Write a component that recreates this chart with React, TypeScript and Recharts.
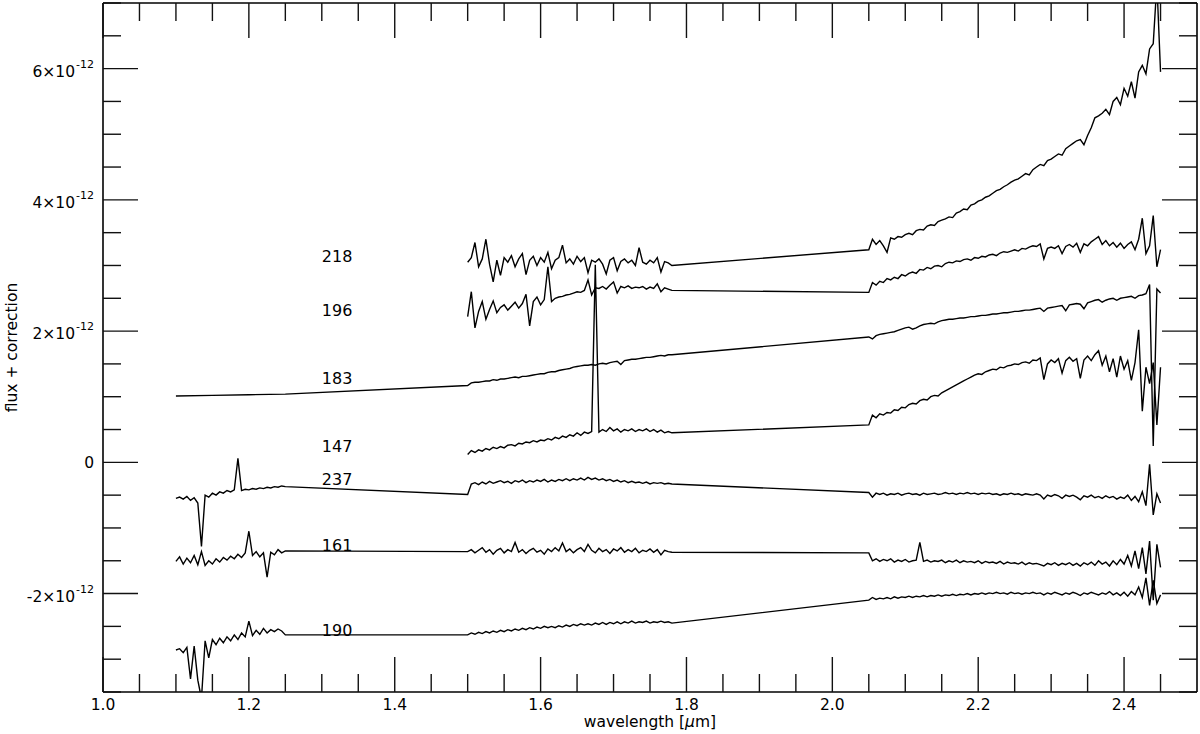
import React from 'react';
import { LineChart, Line, XAxis, YAxis, ReferenceDot } from 'recharts';

// Flux values are given in units of 1e-12 (the axis labels carry the ×10^-12 factor).
// Sampling grids of the three spectral bands (µm)
const J_START = 1.1;
const H_START = 1.5;
const K_START = 2.05;
const STEP = 0.005;

const X_TICKS = [1.0, 1.05, 1.1, 1.15, 1.2, 1.25, 1.3, 1.35, 1.4, 1.45, 1.5, 1.55, 1.6, 1.65, 1.7, 1.75, 1.8,
  1.85, 1.9, 1.95, 2.0, 2.05, 2.1, 2.15, 2.2, 2.25, 2.3, 2.35, 2.4, 2.45];
const Y_TICKS = [-3.5, -3, -2.5, -2, -1.5, -1, -0.5, 0, 0.5, 1, 1.5, 2, 2.5, 3, 3.5, 4, 4.5, 5, 5.5, 6, 6.5, 7];

const LABELS = ['218', '196', '183', '147', '237', '161', '190'];
const LABEL_X = 1.3;
const LABEL_Y = [3.055, 2.226, 1.2, 0.159, -0.34, -1.346, -2.65];

// ---- 218
const S218_H = [
  3.05, 3.12, 3.35, 2.98, 3.10, 3.40, 3.02, 2.75, 3.08, 2.85,
  3.12, 3.05, 3.15, 2.98, 3.10, 3.18, 2.86, 3.08, 3.14, 3.00,
  3.12, 3.05, 3.20, 2.95, 3.08, 3.12, 3.31, 3.04, 3.10, 3.02,
  3.14, 3.06, 3.12, 2.89, 3.08, 3.05, 3.10, 3.02, 2.87, 3.08,
  3.12, 2.92, 3.06, 3.10, 3.04, 3.08, 3.00, 3.27, 3.05, 3.02,
  3.08, 3.04, 3.12, 2.90, 3.06, 3.04, 3.00,
];
const S218_K = [
  3.24, 3.40, 3.32, 3.38, 3.30, 3.20, 3.42, 3.40, 3.44, 3.43,
  3.47, 3.49, 3.47, 3.53, 3.55, 3.54, 3.60, 3.62, 3.61, 3.67,
  3.69, 3.71, 3.74, 3.73, 3.80, 3.82, 3.86, 3.85, 3.92, 3.94,
  3.98, 4.00, 4.04, 4.06, 4.10, 4.14, 4.16, 4.20, 4.23, 4.27,
  4.30, 4.32, 4.36, 4.40, 4.38, 4.46, 4.50, 4.54, 4.52, 4.60,
  4.62, 4.66, 4.70, 4.68, 4.78, 4.82, 4.86, 4.90, 4.92, 4.84,
  4.98, 5.10, 5.25, 5.28, 5.32, 5.38, 5.30, 5.50, 5.56, 5.45,
  5.70, 5.58, 5.80, 5.55, 5.95, 6.05, 5.92, 6.30, 6.38, 7.30,
  5.95,
];

// ---- 196
const S196_H = [
  2.22, 2.60, 2.05, 2.30, 2.45, 2.18, 2.33, 2.46, 2.28, 2.36,
  2.40, 2.32, 2.38, 2.44, 2.35, 2.42, 2.56, 2.08, 2.45, 2.52,
  2.40, 2.48, 2.98, 2.45, 2.50, 2.52, 2.53, 2.55, 2.56, 2.58,
  2.60, 2.59, 2.62, 2.78, 2.55, 2.66, 2.65, 2.68, 2.64, 2.70,
  2.75, 2.58, 2.68, 2.66, 2.69, 2.65, 2.67, 2.66, 2.68, 2.64,
  2.67, 2.65, 2.72, 2.60, 2.66, 2.64, 2.62,
];
const S196_K = [
  2.59, 2.74, 2.70, 2.76, 2.74, 2.80, 2.78, 2.82, 2.80, 2.86,
  2.84, 2.88, 2.90, 2.88, 2.94, 2.93, 2.97, 2.95, 2.99, 3.00,
  2.98, 3.03, 3.05, 3.04, 3.07, 3.06, 3.09, 3.10, 3.08, 3.12,
  3.11, 3.14, 3.13, 3.16, 3.17, 3.15, 3.19, 3.21, 3.20, 3.22,
  3.24, 3.22, 3.26, 3.25, 3.28, 3.30, 3.29, 3.33, 3.10, 3.26,
  3.28, 3.26, 3.30, 3.18, 3.29, 3.32, 3.28, 3.34, 3.20, 3.33,
  3.30, 3.36, 3.40, 3.44, 3.32, 3.38, 3.30, 3.35, 3.28, 3.34,
  3.26, 3.32, 3.36, 3.24, 3.40, 3.72, 3.18, 3.30, 3.76, 2.98,
  3.24,
];

// ---- 183
const S183_J_X = [1.1, 1.15, 1.2, 1.25];
const S183_J = [1.01, 1.02, 1.03, 1.04];
const S183_H = [
  1.17, 1.21, 1.22, 1.22, 1.23, 1.24, 1.24, 1.26, 1.25, 1.27,
  1.27, 1.28, 1.29, 1.30, 1.29, 1.31, 1.31, 1.32, 1.33, 1.34,
  1.35, 1.35, 1.37, 1.38, 1.38, 1.40, 1.41, 1.42, 1.43, 1.45,
  1.46, 1.47, 1.48, 1.48, 1.49, 1.48, 1.50, 1.51, 1.50, 1.52,
  1.53, 1.54, 1.49, 1.55, 1.56, 1.57, 1.57, 1.58, 1.59, 1.60,
  1.60, 1.61, 1.62, 1.63, 1.62, 1.64, 1.64,
];
const S183_K = [
  1.91, 1.88, 1.93, 1.95, 1.96, 1.97, 1.98, 1.99, 2.01, 2.03,
  2.05, 2.06, 2.03, 2.05, 2.08, 2.10, 2.11, 2.12, 2.11, 2.14,
  2.16, 2.17, 2.18, 2.18, 2.19, 2.20, 2.20, 2.21, 2.22, 2.22,
  2.23, 2.24, 2.24, 2.25, 2.26, 2.26, 2.27, 2.28, 2.28, 2.29,
  2.30, 2.30, 2.31, 2.32, 2.32, 2.33, 2.34, 2.35, 2.30, 2.35,
  2.36, 2.37, 2.38, 2.39, 2.31, 2.40, 2.41, 2.42, 2.41, 2.34,
  2.43, 2.45, 2.47, 2.48, 2.44, 2.47, 2.49, 2.50, 2.47, 2.50,
  2.51, 2.52, 2.53, 2.50, 2.54, 2.55, 2.57, 2.71, 0.25, 2.64,
  2.58,
];

// ---- 147
const S147_H = [
  0.12, 0.18, 0.15, 0.19, 0.17, 0.21, 0.19, 0.23, 0.21, 0.24,
  0.22, 0.26, 0.27, 0.25, 0.29, 0.28, 0.31, 0.30, 0.33, 0.31,
  0.34, 0.33, 0.36, 0.34, 0.38, 0.36, 0.40, 0.38, 0.42, 0.40,
  0.45, 0.41, 0.46, 0.44, 0.47, 3.01, 0.46, 0.50, 0.47, 0.53,
  0.48, 0.51, 0.46, 0.50, 0.48, 0.51, 0.47, 0.50, 0.48, 0.51,
  0.47, 0.50, 0.46, 0.49, 0.45, 0.47, 0.45,
];
const S147_K = [
  0.57, 0.72, 0.68, 0.74, 0.72, 0.76, 0.75, 0.80, 0.79, 0.84,
  0.83, 0.88, 0.90, 0.89, 0.94, 0.96, 0.95, 1.00, 1.02, 1.01,
  1.06, 1.09, 1.12, 1.15, 1.18, 1.21, 1.24, 1.27, 1.30, 1.33,
  1.35, 1.34, 1.38, 1.40, 1.42, 1.41, 1.45, 1.44, 1.47, 1.48,
  1.50, 1.49, 1.52, 1.53, 1.51, 1.56, 1.55, 1.59, 1.26, 1.50,
  1.56, 1.52, 1.58, 1.36, 1.55, 1.60, 1.54, 1.58, 1.28, 1.56,
  1.62, 1.55, 1.64, 1.70, 1.48, 1.62, 1.38, 1.58, 1.30, 1.62,
  1.42, 1.55, 1.25, 1.52, 2.02, 0.78, 1.45, 1.20, 1.52, 0.57,
  1.45,
];

// ---- 237
const S237_J = [
  -0.55, -0.53, -0.56, -0.52, -0.58, -0.54, -0.62, -1.28, -0.50, -0.53,
  -0.47, -0.50, -0.45, -0.47, -0.43, -0.45, -0.42, 0.06, -0.43, -0.41,
  -0.42, -0.40, -0.41, -0.39, -0.40, -0.38, -0.39, -0.37, -0.38, -0.36,
  -0.37,
];
const S237_H = [
  -0.49, -0.33, -0.31, -0.34, -0.30, -0.33, -0.29, -0.32, -0.30, -0.28,
  -0.31, -0.29, -0.32, -0.28, -0.30, -0.27, -0.31, -0.28, -0.30, -0.27,
  -0.29, -0.26, -0.30, -0.27, -0.29, -0.26, -0.28, -0.25, -0.28, -0.25,
  -0.27, -0.24, -0.27, -0.23, -0.26, -0.24, -0.27, -0.25, -0.28, -0.26,
  -0.29, -0.27, -0.30, -0.28, -0.31, -0.29, -0.31, -0.30, -0.32, -0.30,
  -0.33, -0.31, -0.32, -0.31, -0.33, -0.32, -0.33,
];
const S237_K = [
  -0.46, -0.53, -0.47, -0.49, -0.47, -0.50, -0.48, -0.49, -0.47, -0.50,
  -0.48, -0.47, -0.49, -0.48, -0.50, -0.47, -0.49, -0.48, -0.47, -0.49,
  -0.48, -0.46, -0.48, -0.47, -0.49, -0.47, -0.48, -0.46, -0.48, -0.47,
  -0.49, -0.47, -0.48, -0.47, -0.49, -0.48, -0.50, -0.48, -0.49, -0.47,
  -0.49, -0.48, -0.50, -0.48, -0.49, -0.50, -0.48, -0.50, -0.56, -0.50,
  -0.52, -0.49, -0.51, -0.55, -0.50, -0.52, -0.50, -0.53, -0.57, -0.51,
  -0.53, -0.50, -0.54, -0.52, -0.55, -0.51, -0.54, -0.52, -0.56, -0.53,
  -0.55, -0.50, -0.58, -0.52, -0.60, -0.45, -0.66, -0.03, -0.80, -0.48,
  -0.62,
];

// ---- 161
const S161_J = [
  -1.51, -1.44, -1.55, -1.46, -1.53, -1.42, -1.56, -1.36, -1.57, -1.50,
  -1.55, -1.47, -1.52, -1.45, -1.49, -1.43, -1.47, -1.40, -1.45, -1.38,
  -1.05, -1.42, -1.36, -1.44, -1.38, -1.75, -1.37, -1.41, -1.33, -1.38,
  -1.35,
];
const S161_H = [
  -1.36, -1.33, -1.38, -1.34, -1.30, -1.37, -1.33, -1.40, -1.34, -1.31,
  -1.38, -1.33, -1.36, -1.22, -1.37, -1.33, -1.39, -1.34, -1.31, -1.37,
  -1.34, -1.40, -1.32, -1.36, -1.30, -1.35, -1.23, -1.36, -1.32, -1.38,
  -1.33, -1.30, -1.36, -1.25, -1.34, -1.38, -1.31, -1.36, -1.33, -1.39,
  -1.32, -1.35, -1.30, -1.37, -1.33, -1.36, -1.31, -1.38, -1.34, -1.36,
  -1.32, -1.37, -1.33, -1.41, -1.34, -1.36, -1.37,
];
const S161_K = [
  -1.38, -1.50, -1.47, -1.51, -1.48, -1.50, -1.47, -1.52, -1.49, -1.51,
  -1.48, -1.52, -1.50, -1.49, -1.22, -1.51, -1.49, -1.52, -1.50, -1.51,
  -1.49, -1.53, -1.50, -1.52, -1.49, -1.53, -1.50, -1.52, -1.51, -1.53,
  -1.50, -1.54, -1.51, -1.53, -1.52, -1.54, -1.51, -1.55, -1.52, -1.54,
  -1.53, -1.55, -1.52, -1.56, -1.53, -1.55, -1.54, -1.56, -1.58, -1.54,
  -1.56, -1.53, -1.57, -1.54, -1.56, -1.53, -1.57, -1.54, -1.58, -1.53,
  -1.56, -1.52, -1.57, -1.50, -1.55, -1.52, -1.58, -1.50, -1.56, -1.48,
  -1.55, -1.42, -1.58, -1.35, -1.62, -1.30, -1.70, -1.20, -2.10, -1.25,
  -1.60,
];

// ---- 190
const S190_J = [
  -2.86, -2.84, -2.90, -2.82, -3.30, -2.80, -3.32, -3.60, -2.72, -2.98,
  -2.70, -2.78, -2.68, -2.75, -2.66, -2.72, -2.63, -2.70, -2.60, -2.66,
  -2.42, -2.64, -2.56, -2.62, -2.53, -2.60, -2.55, -2.58, -2.54, -2.57,
  -2.63,
];
const S190_H = [
  -2.63, -2.60, -2.62, -2.59, -2.61, -2.58, -2.60, -2.57, -2.59, -2.56,
  -2.58, -2.55, -2.57, -2.54, -2.56, -2.53, -2.55, -2.52, -2.54, -2.51,
  -2.53, -2.50, -2.52, -2.50, -2.52, -2.49, -2.51, -2.48, -2.50, -2.47,
  -2.49, -2.46, -2.48, -2.46, -2.48, -2.45, -2.47, -2.44, -2.47, -2.44,
  -2.46, -2.43, -2.46, -2.43, -2.45, -2.42, -2.45, -2.43, -2.44, -2.42,
  -2.45, -2.43, -2.44, -2.42, -2.44, -2.43, -2.45,
];
const S190_K = [
  -2.10, -2.06, -2.09, -2.07, -2.08, -2.06, -2.08, -2.05, -2.07, -2.05,
  -2.06, -2.04, -2.06, -2.04, -2.05, -2.03, -2.05, -2.03, -2.04, -2.02,
  -2.04, -2.02, -2.03, -2.01, -2.03, -2.01, -2.02, -2.00, -2.02, -2.00,
  -2.01, -1.99, -2.01, -1.99, -2.00, -1.98, -2.00, -1.99, -2.01, -1.98,
  -2.00, -1.99, -2.01, -1.99, -2.00, -1.98, -2.00, -1.99, -2.02, -1.99,
  -2.01, -1.98, -2.00, -2.02, -1.99, -2.01, -1.98, -2.00, -2.03, -1.99,
  -2.01, -1.98, -2.00, -2.02, -1.99, -2.01, -1.97, -2.02, -1.99, -2.03,
  -1.98, -2.04, -1.97, -2.02, -1.90, -2.06, -1.76, -2.18, -1.80, -2.15,
  -2.02,
];

type Pt = { x: number; y: number };
const band = (start: number, ys: number[]): Pt[] =>
  ys.map((y, i) => ({ x: +(start + i * STEP).toFixed(3), y }));
const explicit = (xs: number[], ys: number[]): Pt[] => ys.map((y, i) => ({ x: xs[i], y }));

const SERIES: { name: string; data: Pt[] }[] = [
  { name: '218', data: [...band(H_START, S218_H), ...band(K_START, S218_K)] },
  { name: '196', data: [...band(H_START, S196_H), ...band(K_START, S196_K)] },
  { name: '183', data: [...explicit(S183_J_X, S183_J), ...band(H_START, S183_H), ...band(K_START, S183_K)] },
  { name: '147', data: [...band(H_START, S147_H), ...band(K_START, S147_K)] },
  { name: '237', data: [...band(J_START, S237_J), ...band(H_START, S237_H), ...band(K_START, S237_K)] },
  { name: '161', data: [...band(J_START, S161_J), ...band(H_START, S161_H), ...band(K_START, S161_K)] },
  { name: '190', data: [...band(J_START, S190_J), ...band(H_START, S190_H), ...band(K_START, S190_K)] },
];

const FONT = 'DejaVu Sans';
const TICK_COLOR = '#111';
const MAJOR = 35;
const MINOR = 18;
const isMajorX = (v: number) => Math.abs(v * 5 - Math.round(v * 5)) < 1e-6;
const isMajorY = (v: number) => Math.abs(v / 2 - Math.round(v / 2)) < 1e-6;

const BottomTick = (p: any) => {
  const v = p.payload.value;
  const major = isMajorX(v);
  return (
    <g>
      <line x1={p.x} x2={p.x} y1={p.y} y2={p.y - (major ? MAJOR : MINOR)} stroke={TICK_COLOR} strokeWidth={1.4} />
      {major && (
        <text x={p.x} y={p.y + 18} textAnchor="middle" fontSize={15.5} fontFamily={FONT} fill="#000">
          {v.toFixed(1)}
        </text>
      )}
    </g>
  );
};

const TopTick = (p: any) => {
  const v = p.payload.value;
  const major = isMajorX(v);
  return <line x1={p.x} x2={p.x} y1={p.y} y2={p.y + (major ? MAJOR : MINOR)} stroke={TICK_COLOR} strokeWidth={1.4} />;
};

const LeftTick = (p: any) => {
  const v = p.payload.value;
  const major = isMajorY(v);
  let label: React.ReactNode = null;
  if (major) {
    if (Math.abs(v) < 1e-9) {
      label = (
        <text x={p.x - 9} y={p.y + 6} textAnchor="end" fontSize={15.5} fontFamily={FONT} fill="#000">0</text>
      );
    } else {
      label = (
        <text x={p.x - 9} y={p.y + 8} textAnchor="end" fontSize={15.5} fontFamily={FONT} fill="#000">
          <tspan>{`${v}×10`}</tspan>
          <tspan fontSize={11} dy={-9} dx={1}>-12</tspan>
        </text>
      );
    }
  }
  return (
    <g>
      <line x1={p.x} x2={p.x + (major ? MAJOR : MINOR)} y1={p.y} y2={p.y} stroke={TICK_COLOR} strokeWidth={1.4} />
      {label}
    </g>
  );
};

const RightTick = (p: any) => {
  const v = p.payload.value;
  const major = isMajorY(v);
  return <line x1={p.x} x2={p.x - (major ? MAJOR : MINOR)} y1={p.y} y2={p.y} stroke={TICK_COLOR} strokeWidth={1.4} />;
};

const XTitle = (props: any) => {
  const vb = props.viewBox;
  return (
    <text x={vb.x + vb.width / 2} y={vb.y + 35} textAnchor="middle" fontSize={15.5} fontFamily={FONT} fill="#000">
      wavelength [<tspan fontStyle="italic">μ</tspan>m]
    </text>
  );
};

const YTitle = (props: any) => {
  const vb = props.viewBox;
  const cy = vb.y + vb.height / 2;
  return (
    <text x={16.5} y={cy} transform={`rotate(-90 16.5 ${cy})`} textAnchor="middle" fontSize={15.5} fontFamily={FONT} fill="#000">
      flux + correction
    </text>
  );
};

const axisLine = { stroke: '#000', strokeWidth: 1.6 };

export default function App() {
  return (
    <div style={{ position: 'absolute', left: 0, top: 0, width: 1200, height: 734, background: '#fff' }}>
      <LineChart width={1200} height={734} margin={{ top: 0, right: 0, bottom: 0, left: 0 }}>
        <XAxis
          xAxisId="b"
          dataKey="x"
          type="number"
          orientation="bottom"
          domain={[1, 2.5]}
          allowDataOverflow
          ticks={X_TICKS}
          interval={0}
          height={42}
          tickSize={0}
          tickMargin={0}
          tickLine={false}
          axisLine={axisLine}
          tick={BottomTick}
          label={XTitle}
        />
        <XAxis
          xAxisId="t"
          dataKey="x"
          type="number"
          orientation="top"
          domain={[1, 2.5]}
          allowDataOverflow
          ticks={X_TICKS}
          interval={0}
          height={3}
          tickSize={0}
          tickMargin={0}
          tickLine={false}
          axisLine={axisLine}
          tick={TopTick}
        />
        <YAxis
          yAxisId="l"
          type="number"
          orientation="left"
          domain={[-3.5, 7]}
          allowDataOverflow
          ticks={Y_TICKS}
          interval={0}
          width={103}
          tickSize={0}
          tickMargin={0}
          tickLine={false}
          axisLine={axisLine}
          tick={LeftTick}
          label={YTitle}
        />
        <YAxis
          yAxisId="r"
          type="number"
          orientation="right"
          domain={[-3.5, 7]}
          allowDataOverflow
          ticks={Y_TICKS}
          interval={0}
          width={3}
          tickSize={0}
          tickMargin={0}
          tickLine={false}
          axisLine={axisLine}
          tick={RightTick}
        />
        {/* invisible series registered on the mirrored (top/right) axes so they get drawn */}
        <Line
          xAxisId="t"
          yAxisId="r"
          data={SERIES[0].data}
          dataKey="y"
          stroke="none"
          strokeWidth={0}
          dot={false}
          activeDot={false}
          legendType="none"
          isAnimationActive={false}
        />
        {SERIES.map((s) => (
          <Line
            key={s.name}
            xAxisId="b"
            yAxisId="l"
            data={s.data}
            dataKey="y"
            type="linear"
            stroke="#000"
            strokeWidth={1.4}
            dot={false}
            activeDot={false}
            isAnimationActive={false}
          />
        ))}
        {LABELS.map((name, i) => (
          <ReferenceDot
            key={`lab-${name}`}
            xAxisId="b"
            yAxisId="l"
            x={LABEL_X}
            y={LABEL_Y[i]}
            r={0}
            shape={(p: any) => (
              <text x={p.cx} y={p.cy} fontSize={16} fontFamily={FONT} fill="#000">
                {name}
              </text>
            )}
          />
        ))}
      </LineChart>
    </div>
  );
}
